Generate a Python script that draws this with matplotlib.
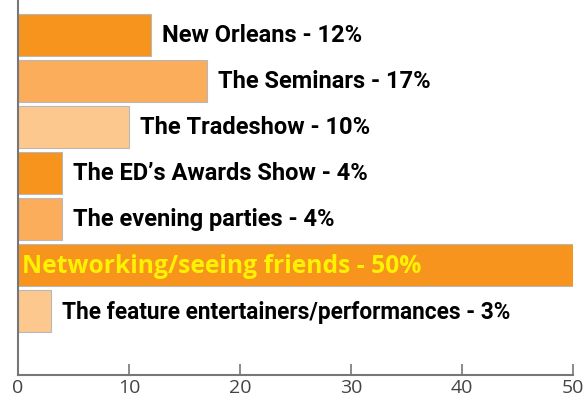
import matplotlib
matplotlib.use("Agg")
import matplotlib.pyplot as plt

categories = ["New Orleans", "The Seminars", "The Tradeshow", "The ED\u2019s Awards Show",
              "The evening parties", "Networking/seeing friends",
              "The feature entertainers/performances"]
values = [12, 17, 10, 4, 4, 50, 3]
bar_colors = ["#F7941D", "#FBAD5B", "#FDC88D", "#F7941D", "#FBAD5B", "#F7941D", "#FDC88D"]
xticks = [0, 10, 20, 30, 40, 50]

label_font = "Roboto"

fig = plt.figure(figsize=(5.88, 4.02), dpi=100)
ax = fig.add_axes([0.0306, 0.0647, 0.9439, 0.9353])

pos = list(range(len(categories)))
ax.barh(pos, values, height=0.9, color=bar_colors, edgecolor="#b8b8b8", linewidth=0.8)

for i, (c, v) in enumerate(zip(categories, values)):
    txt = f"{c} - {v}%"
    if v >= 40:
        ax.text(0.35, i, txt, va="center", ha="left", color="#FFF200",
                fontsize=17.7, fontweight="bold", family="Open Sans")
    else:
        fs = 17 if len(txt) < 30 else 16.3
        ax.text(v + 1.0, i, txt, va="center", ha="left", color="black",
                fontsize=fs, fontweight="bold", family=label_font)

ax.set_xlim(0, 50)
ax.set_ylim(7.39, -0.78)
ax.set_xticks(xticks)
ax.set_xticklabels([str(t) for t in xticks], family="Open Sans")
ax.set_yticks([])
ax.tick_params(axis="x", direction="in", length=8, width=1.2, color="#777777",
               labelsize=14, labelcolor="#444444", pad=2)
for s in ["top", "right"]:
    ax.spines[s].set_visible(False)
for s in ["left", "bottom"]:
    ax.spines[s].set_color("#777777")
    ax.spines[s].set_linewidth(1.5)

fig.savefig("out.png", dpi=100)
